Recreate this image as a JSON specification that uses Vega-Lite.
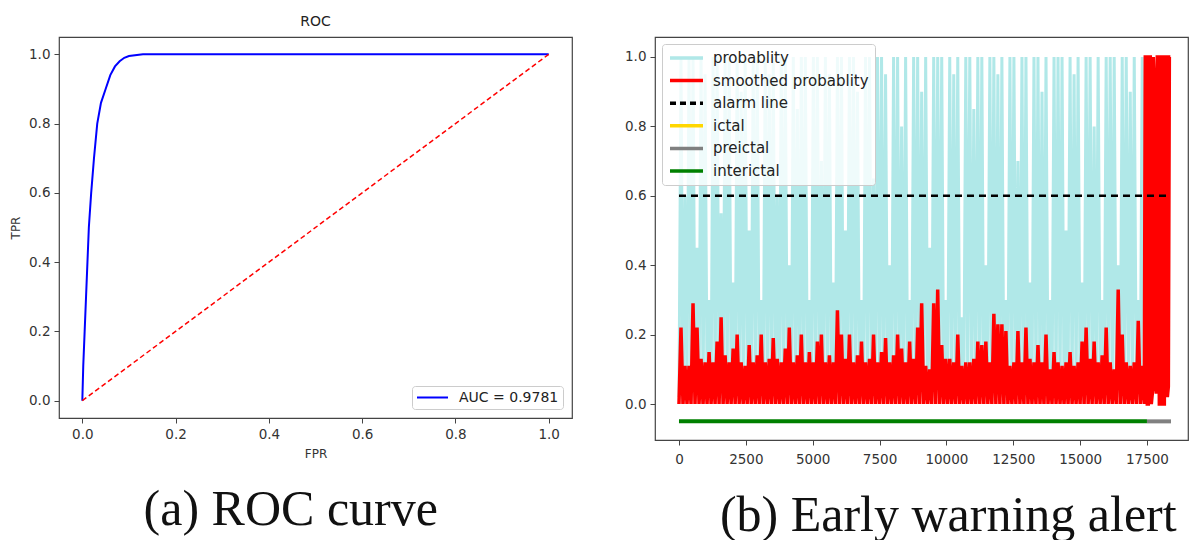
{
  "$schema": "https://vega.github.io/schema/vega-lite/v6.json",
  "padding": {"left": 8, "top": 14, "right": 0, "bottom": 0},
  "background": "white",
  "spacing": 50,
  "config": {
    "font": "DejaVu Sans",
    "view": {"stroke": "#444", "strokeWidth": 1.2},
    "axis": {"grid": false, "domain": false, "tickColor": "#444", "tickSize": 5, "labelPadding": 4, "labelColor": "#333", "labelFontSize": 13.5, "titleColor": "#333", "titleFontWeight": "normal", "titleFontSize": 12, "labelFont": "DejaVu Sans", "titleFont": "DejaVu Sans"},
    "legend": {"labelFont": "DejaVu Sans", "labelColor": "#222"},
    "concat": {"spacing": 50}
  },
  "resolve": {"scale": {"color": "independent"}, "legend": {"color": "independent"}},
  "datasets": {
    "roc": [{"fpr":0,"tpr":0},{"fpr":0.002,"tpr":0.1},{"fpr":0.005,"tpr":0.2},{"fpr":0.008,"tpr":0.3},{"fpr":0.011,"tpr":0.4},{"fpr":0.014,"tpr":0.5},{"fpr":0.019,"tpr":0.6},{"fpr":0.025,"tpr":0.7},{"fpr":0.032,"tpr":0.8},{"fpr":0.04,"tpr":0.86},{"fpr":0.05,"tpr":0.9},{"fpr":0.06,"tpr":0.94},{"fpr":0.07,"tpr":0.965},{"fpr":0.08,"tpr":0.98},{"fpr":0.09,"tpr":0.99},{"fpr":0.1,"tpr":0.995},{"fpr":0.13,"tpr":1.0},{"fpr":1.0,"tpr":1.0}],
    "diag": [{"fpr":0,"tpr":0},{"fpr":1,"tpr":1}],
    "alarm": [{"t":0,"v":0.6},{"t":18290,"v":0.6}],
    "pre": [{"t":17500,"v":-0.05},{"t":18400,"v":-0.05}],
    "inter": [{"t":0,"v":-0.05},{"t":17500,"v":-0.05}],
    "prob": [
{"t":0,"p":0.02,"s":0},{"t":75,"p":1.0,"s":0.22},{"t":150,"p":0.0,"s":0},{"t":225,"p":0.6,"s":0.11},{"t":300,"p":0.04,"s":0},{"t":375,"p":1.0,"s":0.11},{"t":450,"p":0.01,"s":0},{"t":525,"p":1.0,"s":0.29},{"t":600,"p":0.03,"s":0},{"t":675,"p":0.45,"s":0.22},
{"t":750,"p":0.02,"s":0},{"t":825,"p":1.0,"s":0.13},{"t":900,"p":0.0,"s":0},{"t":975,"p":0.95,"s":0.12},{"t":1050,"p":0.04,"s":0},{"t":1125,"p":0.3,"s":0.15},{"t":1200,"p":0.01,"s":0},{"t":1275,"p":1.0,"s":0.12},{"t":1350,"p":0.03,"s":0},{"t":1425,"p":1.0,"s":0.18},
{"t":1500,"p":0.02,"s":0},{"t":1575,"p":0.55,"s":0.25},{"t":1650,"p":0.0,"s":0},{"t":1725,"p":1.0,"s":0.14},{"t":1800,"p":0.04,"s":0},{"t":1875,"p":1.0,"s":0.12},{"t":1950,"p":0.01,"s":0},{"t":2025,"p":0.35,"s":0.16},{"t":2100,"p":0.03,"s":0},{"t":2175,"p":1.0,"s":0.2},
{"t":2250,"p":0.02,"s":0},{"t":2325,"p":0.9,"s":0.12},{"t":2400,"p":0.0,"s":0},{"t":2475,"p":1.0,"s":0.11},{"t":2550,"p":0.04,"s":0},{"t":2625,"p":0.5,"s":0.17},{"t":2700,"p":0.01,"s":0},{"t":2775,"p":1.0,"s":0.12},{"t":2850,"p":0.03,"s":0},{"t":2925,"p":1.0,"s":0.14},
{"t":3000,"p":0.02,"s":0},{"t":3075,"p":0.3,"s":0.2},{"t":3150,"p":0.0,"s":0},{"t":3225,"p":1.0,"s":0.12},{"t":3300,"p":0.04,"s":0},{"t":3375,"p":0.95,"s":0.13},{"t":3450,"p":0.01,"s":0},{"t":3525,"p":1.0,"s":0.19},{"t":3600,"p":0.03,"s":0},{"t":3675,"p":0.6,"s":0.13},
{"t":3750,"p":0.02,"s":0},{"t":3825,"p":1.0,"s":0.12},{"t":3900,"p":0.0,"s":0},{"t":3975,"p":1.0,"s":0.16},{"t":4050,"p":0.04,"s":0},{"t":4125,"p":0.4,"s":0.22},{"t":4200,"p":0.01,"s":0},{"t":4275,"p":1.0,"s":0.12},{"t":4350,"p":0.03,"s":0},{"t":4425,"p":0.85,"s":0.14},
{"t":4500,"p":0.02,"s":0},{"t":4575,"p":1.0,"s":0.2},{"t":4650,"p":0.0,"s":0},{"t":4725,"p":1.0,"s":0.12},{"t":4800,"p":0.04,"s":0},{"t":4875,"p":0.3,"s":0.15},{"t":4950,"p":0.01,"s":0},{"t":5025,"p":1.0,"s":0.12},{"t":5100,"p":0.03,"s":0},{"t":5175,"p":1.0,"s":0.18},
{"t":5250,"p":0.02,"s":0},{"t":5325,"p":0.7,"s":0.2},{"t":5400,"p":0.0,"s":0},{"t":5475,"p":1.0,"s":0.12},{"t":5550,"p":0.04,"s":0},{"t":5625,"p":0.95,"s":0.14},{"t":5700,"p":0.01,"s":0},{"t":5775,"p":0.35,"s":0.12},{"t":5850,"p":0.03,"s":0},{"t":5925,"p":1.0,"s":0.27},
{"t":6000,"p":0.02,"s":0},{"t":6075,"p":1.0,"s":0.2},{"t":6150,"p":0.0,"s":0},{"t":6225,"p":0.5,"s":0.13},{"t":6300,"p":0.04,"s":0},{"t":6375,"p":1.0,"s":0.2},{"t":6450,"p":0.01,"s":0},{"t":6525,"p":1.0,"s":0.12},{"t":6600,"p":0.03,"s":0},{"t":6675,"p":0.9,"s":0.14},
{"t":6750,"p":0.02,"s":0},{"t":6825,"p":0.3,"s":0.18},{"t":6900,"p":0.0,"s":0},{"t":6975,"p":1.0,"s":0.12},{"t":7050,"p":0.04,"s":0},{"t":7125,"p":1.0,"s":0.13},{"t":7200,"p":0.01,"s":0},{"t":7275,"p":0.65,"s":0.2},{"t":7350,"p":0.03,"s":0},{"t":7425,"p":1.0,"s":0.12},
{"t":7500,"p":0.02,"s":0},{"t":7575,"p":1.0,"s":0.15},{"t":7650,"p":0.0,"s":0},{"t":7725,"p":0.95,"s":0.19},{"t":7800,"p":0.04,"s":0},{"t":7875,"p":0.4,"s":0.12},{"t":7950,"p":0.01,"s":0},{"t":8025,"p":1.0,"s":0.14},{"t":8100,"p":0.03,"s":0},{"t":8175,"p":1.0,"s":0.2},
{"t":8250,"p":0.02,"s":0},{"t":8325,"p":0.8,"s":0.16},{"t":8400,"p":0.0,"s":0},{"t":8475,"p":1.0,"s":0.12},{"t":8550,"p":0.04,"s":0},{"t":8625,"p":0.3,"s":0.18},{"t":8700,"p":0.01,"s":0},{"t":8775,"p":1.0,"s":0.13},{"t":8850,"p":0.03,"s":0},{"t":8925,"p":1.0,"s":0.22},
{"t":9000,"p":0.02,"s":0},{"t":9075,"p":0.9,"s":0.29},{"t":9150,"p":0.0,"s":0},{"t":9225,"p":1.0,"s":0.11},{"t":9300,"p":0.04,"s":0},{"t":9375,"p":0.45,"s":0.1},{"t":9450,"p":0.01,"s":0},{"t":9525,"p":1.0,"s":0.29},{"t":9600,"p":0.03,"s":0},{"t":9675,"p":1.0,"s":0.33},
{"t":9750,"p":0.02,"s":0},{"t":9825,"p":1.0,"s":0.17},{"t":9900,"p":0.0,"s":0},{"t":9975,"p":0.3,"s":0.13},{"t":10050,"p":0.04,"s":0},{"t":10125,"p":1.0,"s":0.13},{"t":10200,"p":0.01,"s":0},{"t":10275,"p":0.95,"s":0.12},{"t":10350,"p":0.03,"s":0},{"t":10425,"p":1.0,"s":0.2},
{"t":10500,"p":0.02,"s":0},{"t":10575,"p":0.25,"s":0.11},{"t":10650,"p":0.0,"s":0},{"t":10725,"p":1.0,"s":0.12},{"t":10800,"p":0.04,"s":0},{"t":10875,"p":1.0,"s":0.12},{"t":10950,"p":0.01,"s":0},{"t":11025,"p":0.85,"s":0.13},{"t":11100,"p":0.03,"s":0},{"t":11175,"p":1.0,"s":0.18},
{"t":11250,"p":0.02,"s":0},{"t":11325,"p":1.0,"s":0.17},{"t":11400,"p":0.0,"s":0},{"t":11475,"p":0.4,"s":0.18},{"t":11550,"p":0.04,"s":0},{"t":11625,"p":1.0,"s":0.12},{"t":11700,"p":0.01,"s":0},{"t":11775,"p":1.0,"s":0.26},{"t":11850,"p":0.03,"s":0},{"t":11925,"p":0.95,"s":0.23},
{"t":12000,"p":0.02,"s":0},{"t":12075,"p":1.0,"s":0.23},{"t":12150,"p":0.0,"s":0},{"t":12225,"p":0.3,"s":0.21},{"t":12300,"p":0.04,"s":0},{"t":12375,"p":1.0,"s":0.11},{"t":12450,"p":0.01,"s":0},{"t":12525,"p":1.0,"s":0.12},{"t":12600,"p":0.03,"s":0},{"t":12675,"p":0.7,"s":0.21},
{"t":12750,"p":0.02,"s":0},{"t":12825,"p":1.0,"s":0.12},{"t":12900,"p":0.0,"s":0},{"t":12975,"p":1.0,"s":0.22},{"t":13050,"p":0.04,"s":0},{"t":13125,"p":0.35,"s":0.13},{"t":13200,"p":0.01,"s":0},{"t":13275,"p":1.0,"s":0.12},{"t":13350,"p":0.03,"s":0},{"t":13425,"p":1.0,"s":0.17},
{"t":13500,"p":0.02,"s":0},{"t":13575,"p":0.9,"s":0.12},{"t":13650,"p":0.0,"s":0},{"t":13725,"p":1.0,"s":0.2},{"t":13800,"p":0.04,"s":0},{"t":13875,"p":0.3,"s":0.1},{"t":13950,"p":0.01,"s":0},{"t":14025,"p":1.0,"s":0.15},{"t":14100,"p":0.03,"s":0},{"t":14175,"p":1.0,"s":0.12},
{"t":14250,"p":0.02,"s":0},{"t":14325,"p":1.0,"s":0.11},{"t":14400,"p":0.0,"s":0},{"t":14475,"p":0.5,"s":0.12},{"t":14550,"p":0.04,"s":0},{"t":14625,"p":1.0,"s":0.15},{"t":14700,"p":0.01,"s":0},{"t":14775,"p":0.95,"s":0.11},{"t":14850,"p":0.03,"s":0},{"t":14925,"p":1.0,"s":0.12},
{"t":15000,"p":0.02,"s":0},{"t":15075,"p":0.35,"s":0.18},{"t":15150,"p":0.0,"s":0},{"t":15225,"p":1.0,"s":0.22},{"t":15300,"p":0.04,"s":0},{"t":15375,"p":1.0,"s":0.13},{"t":15450,"p":0.01,"s":0},{"t":15525,"p":0.8,"s":0.18},{"t":15600,"p":0.03,"s":0},{"t":15675,"p":1.0,"s":0.12},
{"t":15750,"p":0.02,"s":0},{"t":15825,"p":0.3,"s":0.14},{"t":15900,"p":0.0,"s":0},{"t":15975,"p":1.0,"s":0.22},{"t":16050,"p":0.04,"s":0},{"t":16125,"p":1.0,"s":0.12},{"t":16200,"p":0.01,"s":0},{"t":16275,"p":1.0,"s":0.1},{"t":16350,"p":0.03,"s":0},{"t":16425,"p":0.4,"s":0.33},
{"t":16500,"p":0.02,"s":0},{"t":16575,"p":1.0,"s":0.2},{"t":16650,"p":0.0,"s":0},{"t":16725,"p":1.0,"s":0.12},{"t":16800,"p":0.04,"s":0},{"t":16875,"p":0.9,"s":0.11},{"t":16950,"p":0.01,"s":0},{"t":17025,"p":1.0,"s":0.12},{"t":17100,"p":0.03,"s":0},{"t":17175,"p":0.3,"s":0.24},
{"t":17250,"p":0.02,"s":0},{"t":17325,"p":1.0,"s":0.11},{"t":17400,"p":0.0,"s":0},{"t":17437.5,"p":null,"s":1.0},{"t":17475,"p":1.0,"s":1.0},{"t":17512.5,"p":null,"s":0},{"t":17550,"p":0.04,"s":0},{"t":17587.5,"p":null,"s":1.0},{"t":17625,"p":0.6,"s":1.0},{"t":17662.5,"p":null,"s":0},{"t":17700,"p":0.01,"s":0.03},{"t":17737.5,"p":null,"s":1.0},{"t":17775,"p":1.0,"s":0.93},{"t":17812.5,"p":null,"s":0.05},{"t":17850,"p":0.03,"s":0.03},{"t":17887.5,"p":null,"s":1.0},{"t":17925,"p":1.0,"s":1.0},
{"t":17962.5,"p":null,"s":0},{"t":18000,"p":0.02,"s":0},{"t":18037.5,"p":null,"s":1.0},{"t":18075,"p":1.0,"s":1.0},{"t":18112.5,"p":null,"s":0},{"t":18150,"p":0.0,"s":0},{"t":18187.5,"p":null,"s":1.0},{"t":18225,"p":0.95,"s":1.0},{"t":18262.5,"p":null,"s":0.02},{"t":18300,"p":0.06,"s":0.05},{"t":18337.5,"p":null,"s":1.0},{"t":18375,"p":null,"s":1.0}
    ]
  },
  "hconcat": [
    {
      "title": {"text": "(a) ROC curve", "orient": "bottom", "font": "Liberation Serif", "fontSize": 50, "fontWeight": "normal", "color": "#111", "offset": 25, "dx": 0, "anchor": "middle"},
      "resolve": {"scale": {"color": "independent"}, "legend": {"color": "independent"}},
      "vconcat": [
        {
          "title": {"text": "ROC", "font": "DejaVu Sans", "fontSize": 14, "fontWeight": "normal", "color": "#222", "offset": 8, "frame": "group"},
          "width": 513,
          "height": 381,
          "layer": [
            {
              "data": {"name": "roc"},
              "mark": {"type": "line", "strokeWidth": 2},
              "encoding": {
                "x": {"field": "fpr", "type": "quantitative", "scale": {"domain": [-0.05, 1.05], "nice": false, "zero": false}, "axis": {"values": [0, 0.2, 0.4, 0.6, 0.8, 1.0], "format": ".1f", "title": "FPR", "titlePadding": 8}},
                "y": {"field": "tpr", "type": "quantitative", "scale": {"domain": [-0.05, 1.05], "nice": false, "zero": false}, "axis": {"values": [0, 0.2, 0.4, 0.6, 0.8, 1.0], "format": ".1f", "title": "TPR", "titlePadding": 6}},
                "color": {"datum": "AUC = 0.9781", "scale": {"domain": ["AUC = 0.9781"], "range": ["#0000ff"]}, "legend": {"orient": "bottom-right", "title": null, "offset": 9, "symbolType": "M-1,0H1", "symbolStrokeWidth": 2, "symbolSize": 961, "clipHeight": 15, "labelFontSize": 14, "labelOffset": 10, "fillColor": "white", "strokeColor": "#ccc", "padding": 4, "cornerRadius": 3}}
              }
            },
            {
              "data": {"name": "diag"},
              "mark": {"type": "line", "strokeWidth": 1.5, "color": "#ff0000", "strokeDash": [5, 3]},
              "encoding": {
                "x": {"field": "fpr", "type": "quantitative"},
                "y": {"field": "tpr", "type": "quantitative"}
              }
            }
          ]
        }
      ]
    },
    {
      "title": {"text": "(b) Early warning alert", "orient": "bottom", "font": "Liberation Serif", "fontSize": 50, "fontWeight": "normal", "color": "#111", "offset": 25, "dx": 42, "anchor": "middle"},
      "resolve": {"scale": {"color": "independent"}, "legend": {"color": "independent"}},
      "vconcat": [
        {
          "title": {"text": " ", "font": "DejaVu Sans", "fontSize": 14, "offset": 8},
          "width": 533,
          "height": 403,
          "encoding": {
            "x": {"field": "t", "type": "quantitative", "scale": {"domain": [-897, 19035], "nice": false, "zero": false}, "axis": {"values": [0, 2500, 5000, 7500, 10000, 12500, 15000, 17500], "format": "d", "title": null, "labelPadding": 7}}
          },
          "layer": [
            {
              "data": {"name": "prob"},
              "mark": {"type": "line", "strokeWidth": 3},
              "encoding": {
                "y": {"field": "p", "type": "quantitative", "scale": {"domain": [-0.1037, 1.0576], "nice": false, "zero": false}, "axis": {"values": [0, 0.2, 0.4, 0.6, 0.8, 1.0], "format": ".1f", "title": null}},
                "color": {"datum": "probablity", "scale": {"domain": ["probablity", "smoothed probablity", "alarm line", "ictal", "preictal", "interictal"], "range": ["#b0e8e8", "#ff0000", "#000000", "#ffd700", "#808080", "#008000"]}, "legend": {"orient": "top-left", "title": null, "offset": 7, "symbolType": "M-1,0H1", "symbolStrokeWidth": 3.5, "symbolSize": 1089, "clipHeight": 16, "labelFontSize": 15, "labelOffset": 8, "rowPadding": 6.6, "fillColor": "rgba(255,255,255,0.8)", "strokeColor": "#ccc", "padding": 6, "cornerRadius": 3, "encode": {"symbols": {"update": {"strokeDash": {"signal": "datum.value === 'alarm line' ? [6, 4] : [1, 0]"}}}}}}
              }
            },
            {
              "data": {"name": "prob"},
              "mark": {"type": "line", "strokeWidth": 3.5},
              "encoding": {
                "y": {"field": "s", "type": "quantitative", "scale": {"domain": [-0.1037, 1.0576], "nice": false, "zero": false}},
                "color": {"datum": "smoothed probablity"}
              }
            },
            {
              "data": {"name": "alarm"},
              "mark": {"type": "line", "strokeWidth": 2.5, "strokeDash": [7, 5]},
              "encoding": {
                "y": {"field": "v", "type": "quantitative", "scale": {"domain": [-0.1037, 1.0576], "nice": false, "zero": false}},
                "color": {"datum": "alarm line"}
              }
            },
            {
              "data": {"name": "pre"},
              "mark": {"type": "line", "strokeWidth": 4},
              "encoding": {
                "y": {"field": "v", "type": "quantitative", "scale": {"domain": [-0.1037, 1.0576], "nice": false, "zero": false}},
                "color": {"datum": "preictal"}
              }
            },
            {
              "data": {"name": "inter"},
              "mark": {"type": "line", "strokeWidth": 4},
              "encoding": {
                "y": {"field": "v", "type": "quantitative", "scale": {"domain": [-0.1037, 1.0576], "nice": false, "zero": false}},
                "color": {"datum": "interictal"}
              }
            }
          ]
        }
      ]
    }
  ]
}
